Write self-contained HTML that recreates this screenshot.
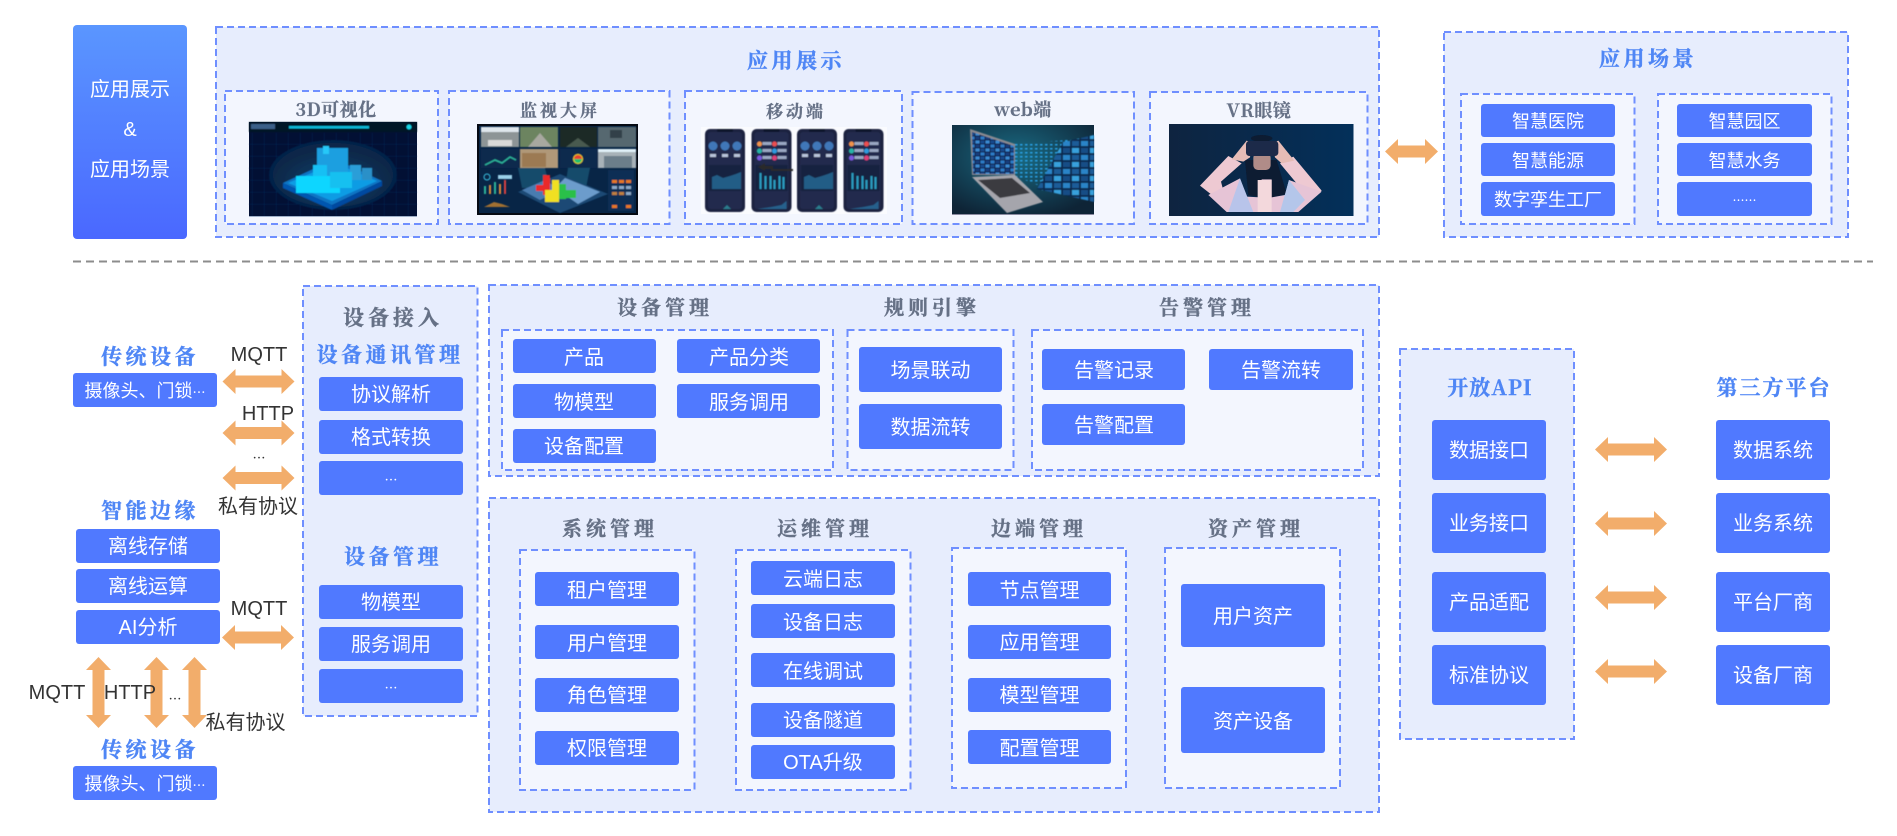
<!DOCTYPE html>
<html><head><meta charset="utf-8"><style>
html,body{margin:0;padding:0;background:#fff;width:1897px;height:836px;overflow:hidden}
svg{display:block}
text{text-anchor:middle;dominant-baseline:central}
.p{fill:#e7edfd;stroke:#6f8fff;stroke-width:2;stroke-dasharray:7 4}
.s{fill:#f3f6fe;stroke:#6f8fff;stroke-width:2;stroke-dasharray:7 4}
.r{fill:#5079ff}
.w{fill:#fff;font:20px "Liberation Sans","Noto Sans CJK SC",sans-serif;transform:translateY(1px)}
.w18{fill:#fff;font:18px "Liberation Sans","Noto Sans CJK SC",sans-serif;transform:translateY(1px)}
.d{fill:#333;font:20px "Liberation Sans","Noto Sans CJK SC",sans-serif}
.tb{fill:#4f86f5;stroke:#4f86f5;stroke-width:.4;font:700 21px "Noto Serif CJK SC",serif;letter-spacing:3.5px}
.tg{fill:#667186;stroke:#667186;stroke-width:.4;font:700 20px "Noto Serif CJK SC",serif;letter-spacing:4px}
.tc{fill:#667186;stroke:#667186;stroke-width:.3;font:700 17px "Noto Serif CJK SC",serif;letter-spacing:3px}
.tl{letter-spacing:.5px;font-size:18px}
.e{font-family:"Noto Sans CJK SC",sans-serif}
.ar{fill:#f2ad6b}
</style></head><body>
<svg xmlns="http://www.w3.org/2000/svg" width="1897" height="836" viewBox="0 0 1897 836">
<defs>
<filter id="bl" x="-2%" y="-2%" width="104%" height="104%"><feGaussianBlur stdDeviation=".55"/></filter>
<linearGradient id="g" x1="0" y1="0" x2="0" y2="1"><stop offset="0" stop-color="#5a96ff"/><stop offset="1" stop-color="#4a68ff"/></linearGradient>
<radialGradient id="c3d" cx=".5" cy=".6" r=".5"><stop offset="0" stop-color="#0f3f6c"/><stop offset="1" stop-color="#0b2848"/></radialGradient>
<radialGradient id="cw" cx=".45" cy=".35" r=".7"><stop offset="0" stop-color="#1a6a82"/><stop offset="1" stop-color="#0e2436"/></radialGradient>
<linearGradient id="cv" x1="0" y1="0" x2="1" y2="0"><stop offset="0" stop-color="#0e2440"/><stop offset="1" stop-color="#03305a"/></linearGradient>
<pattern id="tile" width="18" height="14" patternUnits="userSpaceOnUse"><rect width="18" height="14" fill="#0a2a50"/><rect x="1" y="1" width="7" height="5" fill="#2b84c8"/><rect x="10" y="1" width="7" height="5" fill="#1a5c98"/><rect x="1" y="8" width="7" height="5" fill="#174e86"/><rect x="10" y="8" width="7" height="5" fill="#37a0dc"/></pattern>
<pattern id="tile2" width="10" height="8" patternUnits="userSpaceOnUse"><rect width="10" height="8" fill="#081e44"/><rect x=".5" y=".5" width="4" height="3" fill="#2f7cc8"/><rect x="5.500" y=".5" width="4" height="3" fill="#123e7c"/><rect x=".5" y="4.500" width="4" height="3" fill="#164a8c"/><rect x="5.500" y="4.500" width="4" height="3" fill="#3a8ad4"/></pattern>
<pattern id="dots" width="5" height="4" patternUnits="userSpaceOnUse"><rect width="2.500" height="1.500" fill="#2aa2e8"/></pattern>
<pattern id="grid" width="12" height="12" patternUnits="userSpaceOnUse"><path d="M12 0H0V12" fill="none" stroke="#0c2c5e" stroke-width=".7"/></pattern>
<polygon id="a" points="-36,0 -23,-12.5 -23,-6 23,-6 23,-12.5 36,0 23,12.5 23,6 -23,6 -23,12.5"/>
<polygon id="a2" points="-26.5,0 -13.5,-12.5 -13.5,-6 13.5,-6 13.5,-12.5 26.5,0 13.5,12.5 13.5,6 -13.5,6 -13.5,12.5"/>
<polygon id="v" points="0,-35.5 12.5,-22.5 6,-22.5 6,22.5 12.5,22.5 0,35.5 -12.5,22.5 -6,22.5 -6,-22.5 -12.5,-22.5"/>
<g id="ph0"><rect width="40" height="83" rx="5" fill="#1a2340"/><rect x="3" y="3" width="34" height="77" rx="3" fill="#212c4d"/><rect x="12" y="0" width="16" height="3" rx="1" fill="#10162a"/></g>
<g id="phA"><use href="#ph0"/><circle cx="8" cy="17" r="4.5" fill="#3f77b8"/><circle cx="20" cy="17" r="4.5" fill="#3f77b8"/><circle cx="32" cy="17" r="4.5" fill="#3f77b8"/><rect x="5" y="25" width="6" height="3" fill="#b8c4da"/><rect x="17" y="25" width="6" height="3" fill="#b8c4da"/><rect x="29" y="25" width="6" height="3" fill="#b8c4da"/><rect x="4" y="36" width="32" height="26" fill="#192341"/><polygon points="7,48 12,46 18,49 25,47 31,45 36,43 36,60 7,60" fill="#235d86"/><polygon points="18,80 22,76 26,80" fill="#2a7c8e"/></g>
<g id="phB"><use href="#ph0"/><circle cx="8" cy="15" r="2.5" fill="#f0934c"/><circle cx="23" cy="15" r="2.5" fill="#ec4f50"/><circle cx="8" cy="22" r="2.5" fill="#27b4a8"/><circle cx="23" cy="22" r="2.5" fill="#2d9ce0"/><circle cx="8" cy="29" r="2.5" fill="#7b59e0"/><circle cx="23" cy="29" r="2.5" fill="#dd3f78"/><rect x="11" y="13" width="9" height="3" fill="#9aa7c2"/><rect x="26" y="13" width="9" height="3" fill="#9aa7c2"/><rect x="11" y="20" width="9" height="3" fill="#9aa7c2"/><rect x="26" y="20" width="9" height="3" fill="#9aa7c2"/><rect x="11" y="27" width="9" height="3" fill="#9aa7c2"/><rect x="26" y="27" width="9" height="3" fill="#9aa7c2"/><rect x="4" y="36" width="32" height="26" fill="#192341"/><rect x="8" y="44" width="2" height="16" fill="#2b9bc0"/><rect x="13" y="47" width="2" height="13" fill="#2b9bc0"/><rect x="18" y="47" width="2" height="13" fill="#2b9bc0"/><rect x="22" y="51" width="2" height="9" fill="#2b9bc0"/><rect x="27" y="47" width="2" height="13" fill="#2b9bc0"/><rect x="31" y="48" width="2" height="12" fill="#2b9bc0"/><polygon points="6,80 20,78 30,76 35,72 35,80" fill="#25608c"/></g>
</defs>

<!-- Top left -->
<rect x="73" y="25" width="114" height="214" rx="4" fill="url(#g)"/>
<text class="w" x="130" y="89">应用展示</text>
<text class="w" x="130" y="129">&amp;</text>
<text class="w" x="130" y="169">应用场景</text>

<!-- App panel -->
<rect class="p" x="216" y="27" width="1163" height="210"/>
<text class="tb" x="796" y="60">应用展示</text>
<rect class="s" x="225" y="91" width="213" height="133"/>
<rect class="s" x="449" y="91" width="220.500" height="133"/>
<rect class="s" x="685" y="91" width="217" height="133"/>
<rect class="s" x="912.500" y="92" width="221.500" height="132"/>
<rect class="s" x="1150" y="92" width="217.500" height="132"/>
<text class="tc tl" x="336" y="109">3D可视化</text>
<text class="tc" x="560" y="109">监视大屏</text>
<text class="tc" x="796" y="110">移动端</text>
<text class="tc tl" x="1023" y="109">web端</text>
<text class="tc tl" x="1259" y="110">VR眼镜</text>

<!-- 3D image -->
<rect x="249" y="122" width="168" height="95" fill="#021034"/>
<g filter="url(#bl)">
<rect x="249" y="133" width="168" height="83" fill="url(#grid)"/>
<rect x="249" y="122" width="168" height="10" fill="#021528"/>
<rect x="289" y="126" width="80" height="2.500" fill="#11b8d8"/>
<rect x="251" y="124" width="24" height="5" fill="#3a5f88"/>
<circle cx="409" cy="127" r="2.500" fill="#19d5e8"/>
<ellipse cx="333" cy="175" rx="64" ry="35" fill="#04214a"/>
<ellipse cx="333" cy="175" rx="60" ry="32" fill="url(#c3d)"/>
<polygon points="283,183 335,159 382,181 332,205" fill="#0a74c4"/>
<polygon points="288,183 335,163 377,181 332,201" fill="#0c9ce4"/>
<polygon points="283,183 332,205 332,210 283,188" fill="#0656b0"/>
<polygon points="382,181 332,205 332,210 382,186" fill="#0648a0"/>
<rect x="317" y="148" width="31" height="40" fill="#1a9fe0"/>
<rect x="323" y="146" width="6" height="8" fill="#26c8f8"/>
<rect x="313" y="165" width="14" height="26" fill="#12c0f4"/>
<rect x="296" y="176" width="44" height="17" fill="#10d6ff"/>
<rect x="350" y="165" width="11" height="15" fill="#2b9ed8"/>
<rect x="362" y="168" width="10" height="12" fill="#2b90c8"/>
<rect x="330" y="172" width="22" height="16" fill="#18c0f0"/>
</g>
<rect x="249" y="216" width="168" height="1" fill="#9fb0c8"/>

<!-- Monitor image -->
<rect x="477" y="124" width="161" height="91" fill="#050a14"/>
<rect x="479" y="126" width="157" height="87" fill="#082546"/>
<g filter="url(#bl)">
<rect x="481" y="127" width="38" height="20" fill="#8d9496"/><rect x="481" y="127" width="38" height="5" fill="#dfe6ec"/><rect x="488" y="140" width="24" height="6" fill="#d8d8d8"/>
<rect x="520" y="127" width="38" height="20" fill="#6c8460"/><polygon points="528,147 540,133 552,147" fill="#a8a8a0"/>
<rect x="560" y="127" width="37" height="20" fill="#1a2a28"/><polygon points="566,147 578,138 590,147" fill="#4a5a50"/>
<rect x="598" y="127" width="38" height="20" fill="#56686f"/><rect x="610" y="130" width="12" height="8" fill="#30404a"/>
<rect x="481" y="149" width="38" height="19" fill="#0a2a4e"/><polyline points="485,165 495,160 502,163 510,157 516,160" fill="none" stroke="#2fb39a" stroke-width="1.500"/>
<rect x="520" y="149" width="38" height="19" fill="#b09878"/><rect x="522" y="153" width="24" height="14" fill="#9c7a52"/>
<rect x="560" y="149" width="37" height="19" fill="#0a2a4e"/><circle cx="578" cy="159" r="5" fill="#e8d020"/><path d="M574 159a4 4 0 0 0 8 0z" fill="#20c070"/><path d="M574 159a4 4 0 0 1 8 0z" fill="#e84030"/>
<rect x="598" y="149" width="38" height="19" fill="#a8b2b8"/><rect x="604" y="156" width="28" height="12" fill="#6c7e8a"/><rect x="598" y="149" width="38" height="3" fill="#e0f0f8"/>
<polygon points="518,168 545,168 550,188 522,188" fill="#1b6a88" opacity=".55"/>
<polygon points="568,168 590,168 586,188 565,188" fill="#1b6a88" opacity=".55"/>
<polygon points="518,192 560,174 608,194 560,213" fill="#1a4a74"/>
<polygon points="522,190 545,180 560,190 540,200" fill="#4a7cb0"/>
<polygon points="565,178 600,192 578,204 555,188" fill="#6c9ccc"/>
<rect x="536" y="185" width="9" height="6" fill="#ea2a2a"/><rect x="543" y="175" width="7" height="20" fill="#ea2a2a"/>
<rect x="552" y="180" width="7" height="22" fill="#f0e020"/><rect x="545" y="190" width="7" height="12" fill="#f0e020"/>
<rect x="559" y="184" width="7" height="15" fill="#2cc04a"/><rect x="566" y="190" width="10" height="8" fill="#2cc04a"/>
<rect x="484" y="186" width="2" height="8" fill="#2fb39a"/><rect x="489" y="185" width="2" height="9" fill="#e08a3a"/><rect x="494" y="182" width="2" height="12" fill="#2fb39a"/><rect x="499" y="184" width="2" height="10" fill="#e08a3a"/><rect x="504" y="180" width="2" height="14" fill="#d84040"/>
<polygon points="484,207 494,202 502,204 510,207" fill="#a07030"/>
<circle cx="487" cy="177" r="3" fill="none" stroke="#3ac0e0"/><rect x="498" y="175" width="14" height="4" fill="#9ad0e8"/>
<rect x="608" y="170" width="26" height="41" fill="#0e2e54"/>
<rect x="612" y="180" width="5" height="3" fill="#e87820"/><rect x="619" y="180" width="5" height="3" fill="#e87820"/><rect x="626" y="180" width="5" height="3" fill="#e87820"/>
<rect x="612" y="186" width="5" height="3" fill="#8aa8c8"/><rect x="619" y="186" width="5" height="3" fill="#8aa8c8"/><rect x="626" y="186" width="5" height="3" fill="#8aa8c8"/>
<rect x="612" y="192" width="5" height="3" fill="#c08040"/><rect x="619" y="192" width="5" height="3" fill="#c08040"/><rect x="626" y="192" width="5" height="3" fill="#8aa8c8"/>
<rect x="612" y="205" width="5" height="3" fill="#e87820"/><rect x="626" y="205" width="5" height="3" fill="#e87820"/>
</g>

<!-- Phones -->
<rect x="701" y="127" width="186" height="87" fill="#fafbfe"/>
<g filter="url(#bl)">
<use href="#phA" x="705" y="129"/>
<use href="#phB" x="751.500" y="129"/>
<use href="#phA" x="797" y="129"/>
<use href="#phB" x="843.500" y="129"/>
<polygon points="758,167 765,163 765,166 773,166 773,169 793,169 793,171 771,171 771,169 765,169 765,171" fill="#2c2c2c"/>
</g>

<!-- Web image -->
<rect x="952" y="125" width="142" height="90" fill="url(#cw)"/>
<g filter="url(#bl)">
<polygon points="1015,144 1094,138 1094,188 1040,186 1015,176" fill="url(#dots)"/>
<polygon points="1063,142 1094,135 1094,202 1037,189" fill="url(#tile)"/>
<polygon points="970,129 1015,144 1015,175 972,175" fill="#8a8a90"/>
<polygon points="972,132 1014,146 1014,174 973,174" fill="url(#tile2)"/>
<polygon points="972,177 1015,175 1043,202 1007,213" fill="#a5a5ac"/>
<polygon points="978,180 1012,178 1030,193 1000,198" fill="#3a3a40"/>
</g>
<rect x="952" y="214" width="142" height="1" fill="#8a8aa0"/>

<!-- VR image -->
<rect x="1169" y="124" width="184.500" height="92" fill="url(#cv)"/>
<g transform="translate(1165 120) scale(.3333)" filter="url(#bl)">
<polygon points="240,120 250,225 290,232 300,190 320,232 365,222 335,120" fill="#0a1a30"/>
<polygon points="105,197 190,108 230,130 168,185 188,262" fill="#eec9d2"/>
<polygon points="470,212 385,110 345,130 395,190 400,268" fill="#eec9d2"/>
<polygon points="130,225 225,175 245,230 285,232 290,178 320,178 320,232 360,225 372,180 470,215 400,276 385,276 185,276" fill="#e6c4d6"/>
<polygon points="225,175 265,276 190,276" fill="#b8c4ea"/>
<polygon points="372,180 345,276 385,276 420,240" fill="#b4c6ea"/>
<rect x="278" y="180" width="42" height="96" fill="#f3d8dc"/>
<polygon points="200,118 245,62 262,70 255,112 235,125" fill="#e6bcb6"/>
<polygon points="388,122 340,62 322,70 330,112 350,130" fill="#e6bcb6"/>
<rect x="265" y="100" width="52" height="50" rx="14" fill="#b08c88"/>
<ellipse cx="290" cy="55" rx="32" ry="10" fill="#0a1a30"/>
<rect x="243" y="63" width="97" height="45" rx="10" fill="#1a2b48"/>
</g>

<!-- Arrow top -->
<use class="ar" href="#a2" x="1411.500" y="151.500"/>

<!-- Scene panel -->
<rect class="p" x="1444" y="32" width="404" height="205"/>
<text class="tb" x="1648" y="58">应用场景</text>
<rect class="s" x="1461" y="94" width="173.500" height="130"/>
<rect class="s" x="1658" y="94" width="173.500" height="130"/>
<rect class="r" x="1481" y="104" width="134" height="33" rx="3"/><text class="w18" x="1548" y="120.500">智慧医院</text>
<rect class="r" x="1481" y="143" width="134" height="33" rx="3"/><text class="w18" x="1548" y="160">智慧能源</text>
<rect class="r" x="1481" y="182" width="134" height="34" rx="3"/><text class="w18" x="1548" y="199">数字孪生工厂</text>
<rect class="r" x="1677" y="104" width="135" height="33" rx="3"/><text class="w18" x="1744.500" y="120.500">智慧园区</text>
<rect class="r" x="1677" y="143" width="135" height="33" rx="3"/><text class="w18" x="1744.500" y="160">智慧水务</text>
<rect class="r" x="1677" y="182" width="135" height="34" rx="3"/><text class="w18 e" x="1744.500" y="199" style="font-size:12px">……</text>

<!-- Divider -->
<line x1="73" y1="261.500" x2="1873" y2="261.500" stroke="#8c8c8c" stroke-width="2" stroke-dasharray="8 5"/>

<!-- Left devices -->
<text class="tb" x="150" y="356">传统设备</text>
<rect class="r" x="73" y="373" width="144" height="34" rx="3"/><text class="w18" x="145" y="390">摄像头、门锁<tspan class="e" style="font-size:13px">…</tspan></text>
<text class="d" x="259" y="355">MQTT</text>
<use class="ar" href="#a" x="258.500" y="381.500"/>
<text class="d" x="268" y="414">HTTP</text>
<use class="ar" href="#a" x="258.500" y="433"/>
<text class="d e" x="259" y="457" style="font-size:13px">…</text>
<use class="ar" href="#a" x="258.500" y="478"/>
<text class="d" x="258" y="507">私有协议</text>

<text class="tb" x="150" y="510">智能边缘</text>
<rect class="r" x="76" y="529" width="144" height="34" rx="3"/><text class="w" x="148" y="546">离线存储</text>
<rect class="r" x="76" y="569" width="144" height="34" rx="3"/><text class="w" x="148" y="586">离线运算</text>
<rect class="r" x="76" y="610" width="144" height="34" rx="3"/><text class="w" x="148" y="627">AI分析</text>
<text class="d" x="259" y="609">MQTT</text>
<use class="ar" href="#a" x="258" y="637.500"/>
<use class="ar" href="#v" x="98.500" y="692.500"/>
<use class="ar" href="#v" x="156.500" y="692.500"/>
<use class="ar" href="#v" x="194.500" y="692.500"/>
<text class="d" x="57" y="693">MQTT</text>
<text class="d" x="130" y="693">HTTP</text>
<text class="d e" x="175" y="698" style="font-size:13px">…</text>
<text class="d" x="245.500" y="723">私有协议</text>
<text class="tb" x="150" y="749">传统设备</text>
<rect class="r" x="73" y="766" width="144" height="34" rx="3"/><text class="w18" x="145" y="783">摄像头、门锁<tspan class="e" style="font-size:13px">…</tspan></text>

<!-- Access panel -->
<rect class="p" x="303" y="286" width="174.500" height="430"/>
<text class="tg" x="393" y="317" style="font-size:21px">设备接入</text>
<text class="tb" x="390" y="354">设备通讯管理</text>
<rect class="r" x="319" y="377" width="144" height="34" rx="3"/><text class="w" x="391" y="394">协议解析</text>
<rect class="r" x="319" y="420" width="144" height="34" rx="3"/><text class="w" x="391" y="437">格式转换</text>
<rect class="r" x="319" y="461" width="144" height="34" rx="3"/><text class="w e" x="391" y="478" style="font-size:13px">…</text>
<text class="tb" x="393" y="556">设备管理</text>
<rect class="r" x="319" y="585" width="144" height="34" rx="3"/><text class="w" x="391" y="602">物模型</text>
<rect class="r" x="319" y="627" width="144" height="34" rx="3"/><text class="w" x="391" y="644">服务调用</text>
<rect class="r" x="319" y="669" width="144" height="34" rx="3"/><text class="w e" x="391" y="686" style="font-size:13px">…</text>

<!-- Device mgmt -->
<rect class="p" x="489" y="285" width="890" height="191"/>
<text class="tg" x="665" y="306">设备管理</text>
<text class="tg" x="932" y="306">规则引擎</text>
<text class="tg" x="1207" y="306">告警管理</text>
<rect class="s" x="502" y="330" width="331" height="140"/>
<rect class="s" x="847.500" y="330" width="166" height="140"/>
<rect class="s" x="1032" y="330" width="331" height="140"/>
<rect class="r" x="513" y="339" width="143" height="34" rx="3"/><text class="w" x="584" y="357">产品</text>
<rect class="r" x="677" y="339" width="143" height="34" rx="3"/><text class="w" x="749" y="357">产品分类</text>
<rect class="r" x="513" y="384" width="143" height="34" rx="3"/><text class="w" x="584" y="402">物模型</text>
<rect class="r" x="677" y="384" width="143" height="34" rx="3"/><text class="w" x="749" y="402">服务调用</text>
<rect class="r" x="513" y="429" width="143" height="34" rx="3"/><text class="w" x="584" y="446">设备配置</text>
<rect class="r" x="859" y="347" width="143" height="45" rx="3"/><text class="w" x="930.500" y="370">场景联动</text>
<rect class="r" x="859" y="404" width="143" height="45" rx="3"/><text class="w" x="930.500" y="427">数据流转</text>
<rect class="r" x="1042" y="349" width="143" height="41" rx="3"/><text class="w" x="1114" y="370">告警记录</text>
<rect class="r" x="1209" y="349" width="144" height="41" rx="3"/><text class="w" x="1281" y="370">告警流转</text>
<rect class="r" x="1042" y="404" width="143" height="41" rx="3"/><text class="w" x="1114" y="425">告警配置</text>

<!-- System mgmt -->
<rect class="p" x="489" y="498" width="890" height="314"/>
<text class="tg" x="610" y="527">系统管理</text>
<text class="tg" x="825" y="527">运维管理</text>
<text class="tg" x="1039" y="527">边端管理</text>
<text class="tg" x="1256" y="527">资产管理</text>
<rect class="s" x="520" y="550" width="174.500" height="240"/>
<rect class="s" x="736" y="550" width="174.500" height="240"/>
<rect class="s" x="952" y="548" width="174" height="240"/>
<rect class="s" x="1165" y="548" width="175" height="240"/>
<rect class="r" x="535" y="572" width="144" height="34" rx="3"/><text class="w" x="607" y="590">租户管理</text>
<rect class="r" x="535" y="625" width="144" height="34" rx="3"/><text class="w" x="607" y="643">用户管理</text>
<rect class="r" x="535" y="678" width="144" height="34" rx="3"/><text class="w" x="607" y="695">角色管理</text>
<rect class="r" x="535" y="731" width="144" height="34" rx="3"/><text class="w" x="607" y="748">权限管理</text>
<rect class="r" x="751" y="561" width="144" height="34" rx="3"/><text class="w" x="823" y="579">云端日志</text>
<rect class="r" x="751" y="604" width="144" height="34" rx="3"/><text class="w" x="823" y="622">设备日志</text>
<rect class="r" x="751" y="653" width="144" height="34" rx="3"/><text class="w" x="823" y="671">在线调试</text>
<rect class="r" x="751" y="703" width="144" height="34" rx="3"/><text class="w" x="823" y="720">设备隧道</text>
<rect class="r" x="751" y="745" width="144" height="34" rx="3"/><text class="w" x="823" y="762">OTA升级</text>
<rect class="r" x="968" y="572" width="143" height="34" rx="3"/><text class="w" x="1039.500" y="590">节点管理</text>
<rect class="r" x="968" y="625" width="143" height="34" rx="3"/><text class="w" x="1039.500" y="642">应用管理</text>
<rect class="r" x="968" y="678" width="143" height="34" rx="3"/><text class="w" x="1039.500" y="695">模型管理</text>
<rect class="r" x="968" y="730" width="143" height="34" rx="3"/><text class="w" x="1039.500" y="748">配置管理</text>
<rect class="r" x="1181" y="584" width="144" height="63" rx="3"/><text class="w" x="1253" y="616">用户资产</text>
<rect class="r" x="1181" y="687" width="144" height="66" rx="3"/><text class="w" x="1253" y="721">资产设备</text>

<!-- API -->
<rect class="p" x="1400" y="349" width="174" height="390"/>
<text class="tb" x="1490" y="387" style="letter-spacing:1px">开放API</text>
<rect class="r" x="1432" y="420" width="114" height="60" rx="3"/><text class="w" x="1489" y="450">数据接口</text>
<rect class="r" x="1432" y="493" width="114" height="60" rx="3"/><text class="w" x="1489" y="523">业务接口</text>
<rect class="r" x="1432" y="572" width="114" height="60" rx="3"/><text class="w" x="1489" y="602">产品适配</text>
<rect class="r" x="1432" y="645" width="114" height="60" rx="3"/><text class="w" x="1489" y="675">标准协议</text>
<use class="ar" href="#a" x="1631" y="449.500"/>
<use class="ar" href="#a" x="1631" y="523.500"/>
<use class="ar" href="#a" x="1631" y="597.500"/>
<use class="ar" href="#a" x="1631" y="671.500"/>
<text class="tb" x="1774" y="387" style="letter-spacing:2px">第三方平台</text>
<rect class="r" x="1716" y="420" width="114" height="60" rx="3"/><text class="w" x="1773" y="450">数据系统</text>
<rect class="r" x="1716" y="493" width="114" height="60" rx="3"/><text class="w" x="1773" y="523">业务系统</text>
<rect class="r" x="1716" y="572" width="114" height="60" rx="3"/><text class="w" x="1773" y="602">平台厂商</text>
<rect class="r" x="1716" y="645" width="114" height="60" rx="3"/><text class="w" x="1773" y="675">设备厂商</text>
</svg>
</body></html>
